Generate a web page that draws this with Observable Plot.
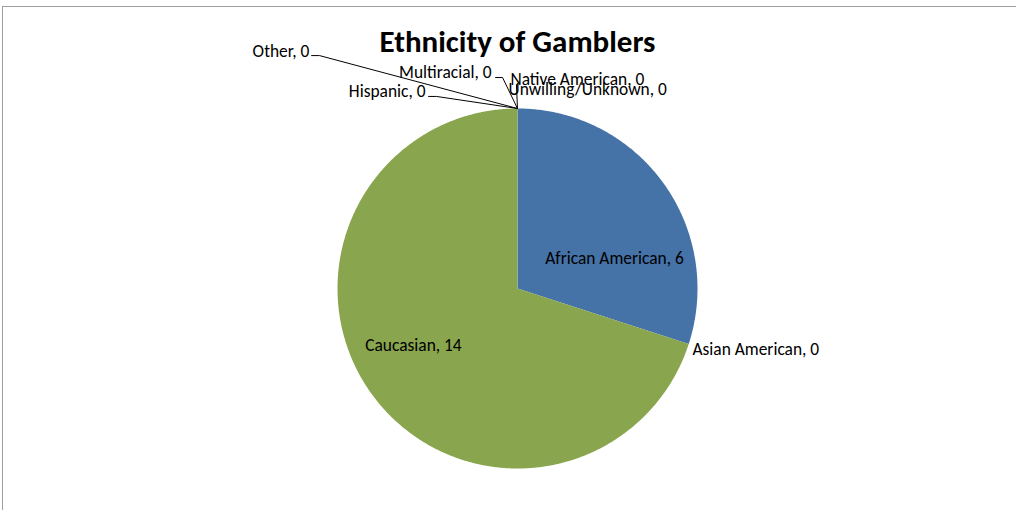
<!DOCTYPE html>
<html><head><meta charset="utf-8">
<script src="https://cdn.jsdelivr.net/npm/d3@7"></script>
<script src="https://cdn.jsdelivr.net/npm/@observablehq/plot@0.6"></script>
<style>
body{margin:0;background:#fff;}
#wrap{position:relative;width:1016px;height:510px;overflow:hidden;}
#frame{position:absolute;left:2px;top:6px;width:1100px;height:600px;border-top:1.5px solid #9e9e9e;border-left:1.5px solid #9e9e9e;}
#chart{position:absolute;left:0;top:0;}
</style></head><body><div id="wrap"><div id="frame"></div><div id="chart"></div></div>
<script>
// ---- data ----
const categories = ["African American","Asian American","Caucasian","Hispanic","Multiracial","Native American","Other","Unwilling/Unknown"];
const counts = [6,0,14,0,0,0,0,0];
const colors = ["#4572A7","#AA4643","#89A54E","#71588F","#4198AF","#DB843D","#93A9CF","#D19392"];
const title = "Ethnicity of Gamblers";

// ---- label layout (in pie-radius units, relative to pie centre) ----
const labelLayout = {
  "African American": {x: 0.539, y: 0.167, anchor: "middle"},
  "Asian American":   {x: 0.972, y: -0.339, anchor: "start"},
  "Caucasian":        {x: -0.578, y: -0.317, anchor: "middle"},
  "Hispanic":         {x: -0.511, y: 1.094, anchor: "end", elbow: [[-0.494,1.067],[-0.45,1.067]]},
  "Multiracial":      {x: -0.144, y: 1.200, anchor: "end", elbow: [[-0.122,1.172],[-0.083,1.172]]},
  "Native American":  {x: -0.039, y: 1.161, anchor: "start", elbow: [[-0.006,1.133]]},
  "Other":            {x: -1.156, y: 1.317, anchor: "end", elbow: [[-1.144,1.294],[-1.100,1.294]]},
  "Unwilling/Unknown":{x: -0.050, y: 1.106, anchor: "start"}
};
const FONT = "Carlito, Calibri, Lato, sans-serif";

const arcs = d3.pie().sort(null).startAngle(0).endAngle(2*Math.PI)(counts);
const rows = categories.map((c,i)=>({category:c, value:counts[i], start:arcs[i].startAngle, end:arcs[i].endAngle}));

// slice polygons
const poly = [];
rows.filter(r=>r.value>0).forEach(r=>{
  poly.push({category:r.category, x:0, y:0});
  const n = Math.max(2, Math.ceil((r.end-r.start)/(Math.PI/360)));
  for(let k=0;k<=n;k++){
    const a = r.start + (r.end-r.start)*k/n;
    poly.push({category:r.category, x:Math.sin(a), y:Math.cos(a)});
  }
});

// leader lines
const leaders = [];
rows.forEach(r=>{
  const L = labelLayout[r.category];
  if(!L.elbow) return;
  L.elbow.forEach(p=>leaders.push({category:r.category, x:p[0], y:p[1]}));
  const a = r.value>0 ? (r.start+r.end)/2 : r.start;
  leaders.push({category:r.category, x:Math.sin(a), y:Math.cos(a)});
});

const labels = rows.map(r=>({text:`${r.category}, ${r.value}`, x:labelLayout[r.category].x, y:labelLayout[r.category].y, anchor:labelLayout[r.category].anchor}));

const plot = Plot.plot({
  width:1016, height:510,
  x:{domain:[-1,1], range:[337,697], axis:null},
  y:{domain:[-1,1], range:[468,108], axis:null},
  color:{domain:categories, range:colors},
  style:{background:"transparent", fontFamily:FONT},
  marks:[
    Plot.line(poly, {x:"x", y:"y", z:"category", fill:"category", stroke:"none", curve:"linear-closed"}),
    Plot.line(leaders, {x:"x", y:"y", z:"category", stroke:"#000", strokeWidth:1}),
    ...["start","middle","end"].map(an=>Plot.text(labels.filter(d=>d.anchor===an), {x:"x", y:"y", text:"text", textAnchor:an, fontSize:17.4, fill:"#000"})),
    Plot.text([title], {x:()=>0, y:()=>1.367, text:d=>d, fontSize:31, fontWeight:"bold", fill:"#000"})
  ]
});
document.getElementById("chart").appendChild(plot);
</script></body></html>
